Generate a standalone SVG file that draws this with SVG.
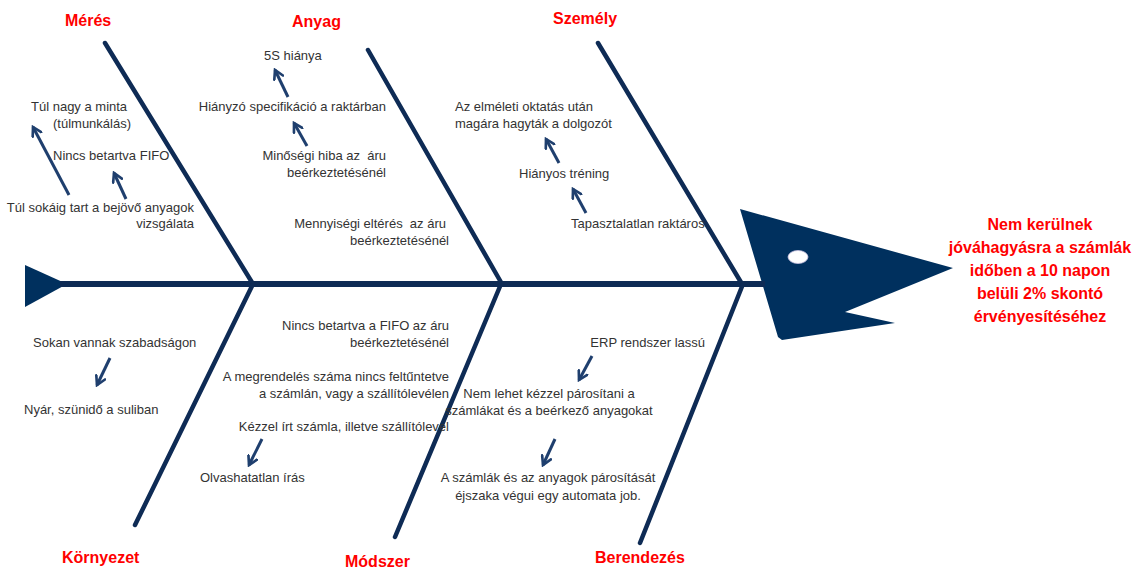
<svg xmlns="http://www.w3.org/2000/svg" width="1138" height="569" viewBox="0 0 1138 569">
<defs>
<style>
.bone{stroke:#0E2B55;stroke-width:4.5;stroke-linecap:round;fill:none}
.spine{stroke:#0E2B55;stroke-width:6;fill:none}
.cat{font-family:"Liberation Sans",Arial,sans-serif;font-weight:bold;font-size:16px;fill:#FF0000}
.t{font-family:"Liberation Sans",Arial,sans-serif;font-size:13px;fill:#333333;white-space:pre}
.head{font-family:"Liberation Sans",Arial,sans-serif;font-weight:bold;font-size:16px;fill:#FF0000;text-anchor:middle}
.arr{stroke:#1F3F6E;stroke-width:3;fill:none;marker-end:url(#ah)}
</style>
<marker id="ah" viewBox="0 0 10 10" refX="8" refY="5" markerWidth="4" markerHeight="4" orient="auto" markerUnits="strokeWidth">
<path d="M1,1 L8,5 L1,9" fill="none" stroke="#1F3F6E" stroke-width="2.2" stroke-linecap="round"/>
</marker>
</defs>
<rect width="1138" height="569" fill="#FFFFFF"/>

<g id="fish">
<polygon id="tail" points="25,265 67,284 25,307" fill="#00305E"/>
<polygon id="head" points="740,209 953,268 845,312 895,323 782,340 778,337" fill="#00305E"/>
<ellipse cx="798" cy="257" rx="10" ry="6.5" fill="#FFFFFF" stroke="#C8C0E0" stroke-width="0.8"/>
</g>

<g id="connectors">
<line class="spine" x1="60" y1="284" x2="765" y2="284"/>
<line class="bone" x1="105" y1="43" x2="253" y2="284"/>
<line class="bone" x1="368" y1="50" x2="502" y2="284"/>
<line class="bone" x1="598" y1="43" x2="742" y2="284"/>
<line class="bone" x1="253" y1="284" x2="135" y2="525"/>
<line class="bone" x1="501" y1="284" x2="395" y2="537"/>
<line class="bone" x1="743" y1="284" x2="640" y2="543"/>
<line class="arr" x1="69" y1="195" x2="33" y2="127"/>
<line class="arr" x1="126" y1="199" x2="114" y2="173"/>
<line class="arr" x1="288" y1="97" x2="275" y2="70"/>
<line class="arr" x1="307" y1="146" x2="294" y2="123"/>
<line class="arr" x1="559" y1="163" x2="546" y2="139"/>
<line class="arr" x1="586" y1="213" x2="573" y2="189"/>
<line class="arr" x1="110" y1="358" x2="97" y2="385"/>
<line class="arr" x1="262" y1="439" x2="249" y2="465"/>
<line class="arr" x1="592" y1="356" x2="579" y2="380"/>
<line class="arr" x1="555" y1="439" x2="543" y2="465"/>
</g>

<g id="cat-meres"><text class="cat" x="65" y="26">Mérés</text></g>
<g id="cat-anyag"><text class="cat" x="292" y="27">Anyag</text></g>
<g id="cat-szemely"><text class="cat" x="553" y="24">Személy</text></g>
<g id="cat-kornyezet"><text class="cat" x="62" y="563">Környezet</text></g>
<g id="cat-modszer"><text class="cat" x="345" y="567">Módszer</text></g>
<g id="cat-berendezes"><text class="cat" x="595" y="563">Berendezés</text></g>

<g id="effect">
<text class="head" x="1040" y="230">Nem kerülnek</text>
<text class="head" x="1040" y="253">jóváhagyásra a számlák</text>
<text class="head" x="1040" y="276">időben a 10 napon</text>
<text class="head" x="1040" y="299">belüli 2% skontó</text>
<text class="head" x="1040" y="322">érvényesítéséhez</text>
</g>

<g id="meres-causes">
<text class="t" x="31" y="111">Túl nagy a minta</text>
<text class="t" x="53" y="128">(túlmunkálás)</text>
<text class="t" x="53" y="160">Nincs betartva FIFO</text>
<text class="t" x="194" y="212" text-anchor="end">Túl sokáig tart a bejövő anyagok</text>
<text class="t" x="194" y="228" text-anchor="end">vizsgálata</text>
</g>

<g id="anyag-causes">
<text class="t" x="264" y="60">5S hiánya</text>
<text class="t" x="386" y="111" text-anchor="end">Hiányzó specifikáció a raktárban</text>
<text class="t" x="386" y="160" text-anchor="end" xml:space="preserve">Minőségi hiba az  áru</text>
<text class="t" x="386" y="177" text-anchor="end">beérkeztetésénél</text>
<text class="t" x="446" y="228" text-anchor="end" xml:space="preserve">Mennyiségi eltérés  az áru</text>
<text class="t" x="449" y="245" text-anchor="end">beérkeztetésénél</text>
</g>

<g id="szemely-causes">
<text class="t" x="455" y="111">Az elméleti oktatás után</text>
<text class="t" x="455" y="128">magára hagyták a dolgozót</text>
<text class="t" x="519" y="178">Hiányos tréning</text>
<text class="t" x="571" y="228">Tapasztalatlan raktáros</text>
</g>

<g id="kornyezet-causes">
<text class="t" x="33" y="347">Sokan vannak szabadságon</text>
<text class="t" x="24" y="414">Nyár, szünidő a suliban</text>
</g>

<g id="modszer-causes">
<text class="t" x="449" y="330" text-anchor="end">Nincs betartva a FIFO az áru</text>
<text class="t" x="449" y="347" text-anchor="end">beérkeztetésénél</text>
<text class="t" x="449" y="381" text-anchor="end">A megrendelés száma nincs feltűntetve</text>
<text class="t" x="449" y="398" text-anchor="end">a számlán, vagy a szállítólevélen</text>
<text class="t" x="449" y="431" text-anchor="end">Kézzel írt számla, illetve szállítólevel</text>
<text class="t" x="200" y="482">Olvashatatlan írás</text>
</g>

<g id="berendezes-causes">
<text class="t" x="705" y="347" text-anchor="end">ERP rendszer lassú</text>
<text class="t" x="549" y="398" text-anchor="middle">Nem lehet kézzel párosítani a</text>
<text class="t" x="549" y="415" text-anchor="middle">számlákat és a beérkező anyagokat</text>
<text class="t" x="548" y="482" text-anchor="middle">A számlák és az anyagok párosítását</text>
<text class="t" x="548" y="500" text-anchor="middle">éjszaka végui egy automata job.</text>
</g>
</svg>
